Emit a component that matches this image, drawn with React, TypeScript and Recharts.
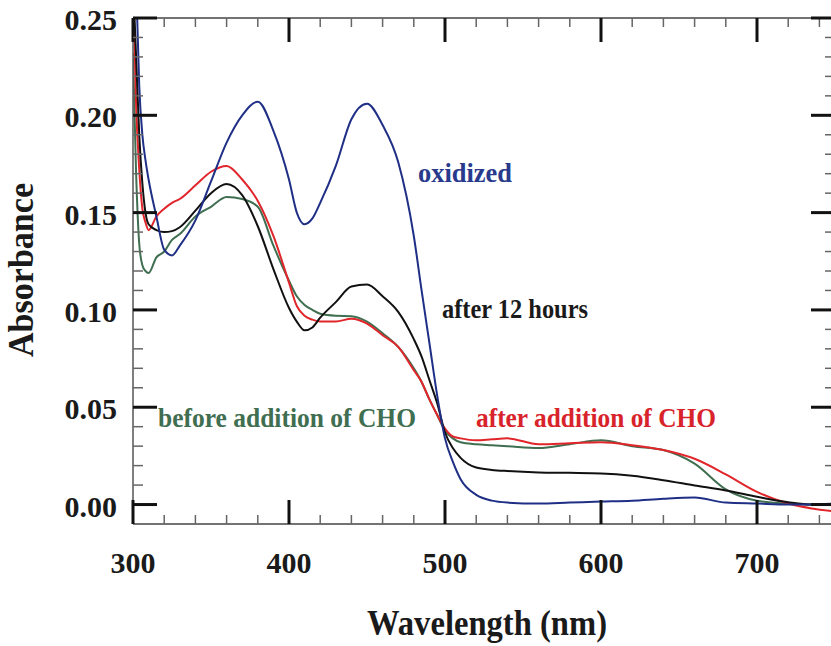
import React from "react"
import { LineChart, Line, XAxis, YAxis } from "recharts"

const WAVELENGTHS = [
  300, 302, 304, 306, 308, 310, 315, 320, 325, 330, 340, 350, 360, 370, 380, 390, 400, 405, 410, 415,
  420, 430, 440, 450, 460, 470, 480, 485, 490, 495, 500, 505, 510, 520, 530, 540, 560, 580, 600, 620,
  640, 660, 680, 700, 720, 735, 750,
]

const OXIDIZED = [
  0.32, 0.27, 0.215, 0.19, 0.177, 0.167, 0.148, 0.131, 0.128, 0.133, 0.146, 0.166, 0.186, 0.2, 0.207, 0.192, 0.167, 0.15, 0.144, 0.147,
  0.155, 0.174, 0.198, 0.206, 0.195, 0.176, 0.138, 0.11, 0.083, 0.056, 0.034, 0.022, 0.013, 0.005, 0.002, 0.001, 0.0005, 0.001, 0.0015, 0.002,
  0.003, 0.0036, 0.001, 0.0005, 0.0, 0.0, 0.0005,
]

const AFTER_12H = [
  0.27, 0.23, 0.19, 0.165, 0.15, 0.144, 0.141, 0.14, 0.1405, 0.1425, 0.151, 0.16, 0.1647, 0.159, 0.143, 0.121, 0.101, 0.094, 0.0895, 0.091,
  0.096, 0.104, 0.112, 0.113, 0.107, 0.099, 0.085, 0.076, 0.064, 0.052, 0.037, 0.029, 0.024, 0.019, 0.0178, 0.0172, 0.0165, 0.0163, 0.016, 0.0148,
  0.0125, 0.0098, 0.0072, 0.004, 0.0012, 0.0, 0.0,
]

const AFTER_CHO = [
  0.27, 0.205, 0.172, 0.152, 0.145, 0.141, 0.148, 0.152, 0.155, 0.157, 0.164, 0.171, 0.174, 0.167, 0.156, 0.138, 0.114, 0.102, 0.097, 0.095,
  0.094, 0.094, 0.0955, 0.093, 0.087, 0.081, 0.069, 0.063, 0.054, 0.046, 0.039, 0.035, 0.034, 0.033, 0.0335, 0.034, 0.031, 0.0315, 0.032, 0.0305,
  0.028, 0.0235, 0.0155, 0.0065, 0.0005, -0.002, -0.0035,
]

const BEFORE_CHO = [
  0.232, 0.17, 0.134, 0.123, 0.12, 0.119, 0.127, 0.13, 0.136, 0.139, 0.148, 0.153, 0.158, 0.157, 0.153, 0.133, 0.115, 0.107, 0.1025, 0.1,
  0.098, 0.097, 0.0968, 0.094, 0.088, 0.081, 0.07, 0.063, 0.054, 0.046, 0.038, 0.034, 0.032, 0.031, 0.0305, 0.03, 0.029, 0.031, 0.033, 0.03,
  0.028, 0.021, 0.0078, 0.002, 0.0005, 0.0, 0.0,
]

const X_TICKS = [300, 320, 340, 360, 380, 400, 420, 440, 460, 480, 500, 520, 540, 560, 580, 600, 620, 640, 660, 680, 700, 720, 740]
const Y_TICKS = [
  0, 0.01, 0.02, 0.03, 0.04, 0.05, 0.06, 0.07, 0.08, 0.09, 0.1, 0.11, 0.12, 0.13,
  0.14, 0.15, 0.16, 0.17, 0.18, 0.19, 0.2, 0.21, 0.22, 0.23, 0.24, 0.25,
]

const data = WAVELENGTHS.map((nm, i) => ({
  nm,
  oxidized: OXIDIZED[i],
  after12: AFTER_12H[i],
  afterCho: AFTER_CHO[i],
  beforeCho: BEFORE_CHO[i],
}))

const FONT = '"Liberation Serif", "Times New Roman", serif'
const INK = "#1a1a1a"
const MAJOR = { stroke: "#111", strokeWidth: 3 }
const MINOR = { stroke: "#666", strokeWidth: 1.5 }

const isMajorX = (v: number) => v % 100 === 0
const isMajorY = (v: number) => Math.round(v * 100) % 5 === 0

function BottomTick({ x, y, payload }: any) {
  const v = payload.value
  const major = isMajorX(v)
  return (
    <g>
      <line x1={x} y1={y} x2={x} y2={y - (major ? 24 : 9)} {...(major ? MAJOR : MINOR)} />
      {major && (
        <text x={x} y={y + 49} textAnchor="middle" fontFamily={FONT} fontWeight="bold" fontSize={30} fill={INK}>
          {v}
        </text>
      )}
    </g>
  )
}

function TopTick({ x, y, payload }: any) {
  const major = isMajorX(payload.value)
  return <line x1={x} y1={y} x2={x} y2={y + (major ? 24 : 9)} {...(major ? MAJOR : MINOR)} />
}

function LeftTick({ x, y, payload }: any) {
  const v = payload.value
  const major = isMajorY(v)
  return (
    <g>
      <line x1={x} y1={y} x2={x + (major ? 24 : 10)} y2={y} {...(major ? MAJOR : MINOR)} />
      {major && (
        <text x={x - 16} y={y + 12} textAnchor="end" fontFamily={FONT} fontWeight="bold" fontSize={30} fill={INK}>
          {v.toFixed(2)}
        </text>
      )}
    </g>
  )
}

function RightTick({ x, y, payload }: any) {
  const major = isMajorY(payload.value)
  return <line x1={x} y1={y} x2={x - (major ? 24 : 10)} y2={y} {...(major ? MAJOR : MINOR)} />
}

export default function App() {
  return (
    <div style={{ position: "absolute", left: 0, top: 0, width: 831, height: 646, overflow: "hidden", background: "#fff" }}>
      <LineChart width={840} height={646} data={data} margin={{ top: 17, right: 4, left: 13, bottom: 2 }}>
        <XAxis
          dataKey="nm"
          type="number"
          domain={[300, 750]}
          allowDataOverflow
          ticks={X_TICKS}
          interval={0}
          height={120}
          tickSize={0}
          tickMargin={0}
          tick={BottomTick}
          tickLine={false}
          axisLine={{ stroke: "#444", strokeWidth: 1.5 }}
        />
        <XAxis
          xAxisId="top"
          orientation="top"
          dataKey="nm"
          type="number"
          domain={[300, 750]}
          allowDataOverflow
          ticks={X_TICKS}
          interval={0}
          height={1}
          tickSize={0}
          tickMargin={0}
          tick={TopTick}
          tickLine={false}
          axisLine={{ stroke: "#444", strokeWidth: 1.5 }}
        />
        <YAxis
          type="number"
          domain={[-0.01, 0.25]}
          allowDataOverflow
          ticks={Y_TICKS}
          interval={0}
          width={120}
          tickSize={0}
          tickMargin={0}
          tick={LeftTick}
          tickLine={false}
          axisLine={{ stroke: "#555", strokeWidth: 1.5 }}
        />
        <YAxis
          yAxisId="right"
          orientation="right"
          type="number"
          domain={[-0.01, 0.25]}
          allowDataOverflow
          ticks={Y_TICKS}
          interval={0}
          width={1}
          tickSize={0}
          tickMargin={0}
          tick={RightTick}
          tickLine={false}
          axisLine={{ stroke: "#444", strokeWidth: 1.5 }}
        />
        <Line type="monotone" dataKey="beforeCho" stroke="#3f6e50" strokeWidth={2} dot={false} isAnimationActive={false} />
        <Line type="monotone" dataKey="afterCho" stroke="#e0262b" strokeWidth={2} dot={false} isAnimationActive={false} />
        <Line type="monotone" dataKey="after12" stroke="#111111" strokeWidth={2} dot={false} isAnimationActive={false} />
        <Line type="monotone" dataKey="oxidized" stroke="#1f2f86" strokeWidth={2} dot={false} isAnimationActive={false} />
      </LineChart>
      <svg width={831} height={646} style={{ position: "absolute", left: 0, top: 0, pointerEvents: "none" }}>
        <g fontFamily={FONT} fontWeight="bold">
          <text x={33} y={270} transform="rotate(-90 33 270)" textAnchor="middle" fontSize={36} fill={INK} textLength={174} lengthAdjust="spacingAndGlyphs">
            Absorbance
          </text>
          <text x={487} y={635} textAnchor="middle" fontSize={36} fill={INK} textLength={240} lengthAdjust="spacingAndGlyphs">
            Wavelength (nm)
          </text>
          <text x={418} y={182} fontSize={28} fill="#283a8c" textLength={94} lengthAdjust="spacingAndGlyphs">oxidized</text>
          <text x={442} y={318} fontSize={27} fill={INK} textLength={146} lengthAdjust="spacingAndGlyphs">after 12 hours</text>
          <text x={158} y={427} fontSize={28} fill="#3f6e50" textLength={258} lengthAdjust="spacingAndGlyphs">before addition of CHO</text>
          <text x={476} y={427} fontSize={28} fill="#d9232b" textLength={240} lengthAdjust="spacingAndGlyphs">after addition of CHO</text>
        </g>
      </svg>
    </div>
  )
}
